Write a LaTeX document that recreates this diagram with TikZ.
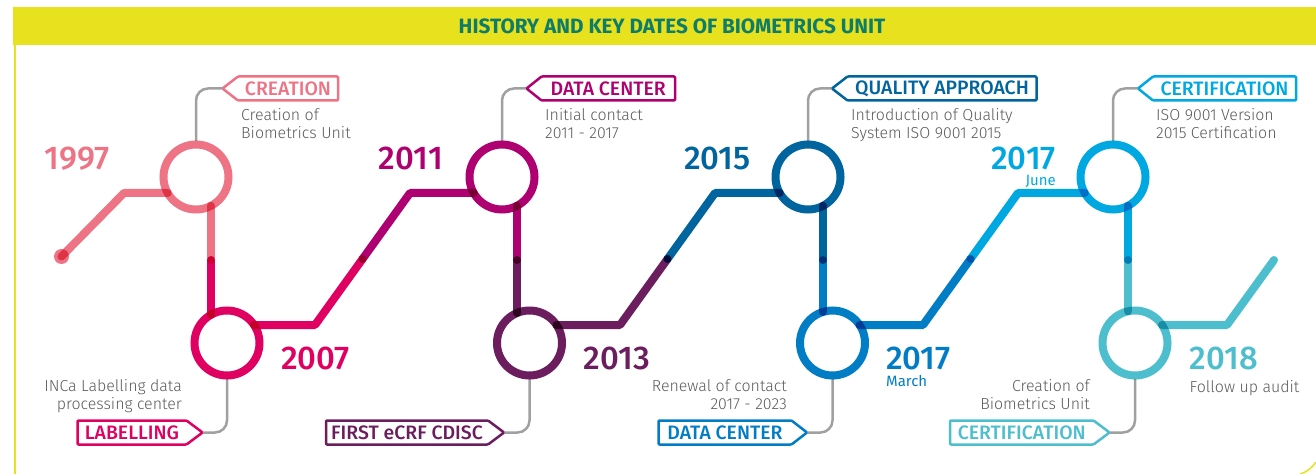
\documentclass[tikz,border=0pt]{standalone}
\usepackage{fontspec}
\setmainfont{Fira Sans}
\newfontfamily\lightf{Fira Sans Light}
\newfontfamily\medf{Fira Sans Medium}
\usetikzlibrary{calc}

% one colour per year of the timeline
\definecolor{cA}{HTML}{EE7485}
\definecolor{cB}{HTML}{E00061}
\definecolor{cC}{HTML}{AE0070}
\definecolor{cD}{HTML}{6C1D5E}
\definecolor{cE}{HTML}{00649F}
\definecolor{cF}{HTML}{007DC5}
\definecolor{cG}{HTML}{00A8E1}
\definecolor{cH}{HTML}{4DBECE}
\definecolor{band}{HTML}{E8E21E}
\definecolor{headtxt}{HTML}{0E7C6B}
\definecolor{conngray}{HTML}{A0A0A0}
\definecolor{desc}{HTML}{5A5A5A}

\tikzset{
  track/.style={line width=8bp, line cap=round, line join=round, blend mode=multiply},
  ring/.style={circle, minimum size=65bp, inner sep=0pt, line width=8bp, blend mode=multiply, draw=#1},
  conn/.style={draw=conngray, line width=2.5bp, rounded corners=12bp},
  tagbody/.style={minimum height=24bp, inner sep=0pt, outer sep=0pt, text=#1,
    font=\medf\fontsize{19.5}{19.5}\selectfont},
  tagline/.style={draw=#1, line width=2.5bp, line join=round, rounded corners=1bp},
  yearA/.style={text=#1, inner sep=0pt, font=\medf\fontsize{33}{33}\selectfont},
  month/.style={text=#1, inner sep=0pt, font=\fontsize{15}{15}\selectfont},
  note/.style={text=desc, inner sep=0pt, font=\lightf\fontsize{16}{16}\selectfont},
}

\begin{document}
\begin{tikzpicture}[x=1bp, y=-1bp]
\useasboundingbox (0,0) rectangle (1316,474);

% header band and frame
\fill[band] (13,7) rectangle (1316,45);
\node[text=headtxt, font=\bfseries\fontsize{20.8}{20.8}\selectfont, inner sep=0pt] (title) at (672,26.5)
  {HISTORY AND KEY DATES OF BIOMETRICS UNIT};
\draw[band, line width=1.5bp] (15,45) -- (15,474);
\draw[band, line width=1.5bp] (1300,474) .. controls (1306,472.5) and (1312,468) .. (1316,462);

% milestone circles
\coordinate (p1) at (196,177);
\coordinate (p2) at (227,343);
\coordinate (p3) at (502,177);
\coordinate (p4) at (529.5,343);
\coordinate (p5) at (808,177);
\coordinate (p6) at (832.5,343);
\coordinate (p7) at (1113,177);
\coordinate (p8) at (1135,343);

% tag tips
\coordinate (tp1) at (222.5,88.5);
\coordinate (tp3) at (526.5,88.5);
\coordinate (tp5) at (832,88.5);
\coordinate (tp7) at (1138,88.5);
\coordinate (tp2) at (202.5,432.5);
\coordinate (tp4) at (504,432.5);
\coordinate (tp6) at (807,432.5);
\coordinate (tp8) at (1109.5,432.5);

% grey leaders from circles to tags
\draw[conn] ($(p1)+(0,-36)$) |- (tp1);
\draw[conn] ($(p3)+(0,-36)$) |- (tp3);
\draw[conn] ($(p5)+(0,-36)$) |- (tp5);
\draw[conn] ($(p7)+(0,-36)$) |- (tp7);
\draw[conn] ($(p2)+(0,36)$) |- (tp2);
\draw[conn] ($(p4)+(0,36)$) |- (tp4);
\draw[conn] ($(p6)+(0,36)$) |- (tp6);
\draw[conn] ($(p8)+(0,36)$) |- (tp8);

% track bends
\coordinate (s0) at (61.5,256.5);
\coordinate (k1) at (124,193);
\coordinate (v1) at (211,260);
\coordinate (k2) at (315,325);
\coordinate (m2) at (362.5,259);
\coordinate (k3) at (410,193);
\coordinate (v3) at (517,260);
\coordinate (k4) at (620,325);
\coordinate (m4) at (667.5,259);
\coordinate (k5) at (715,193);
\coordinate (v5) at (823,260);
\coordinate (k6) at (923,325);
\coordinate (m6) at (970.5,259);
\coordinate (k7) at (1018,193);
\coordinate (v7) at (1128,260);
\coordinate (k8) at (1227,325);
\coordinate (e8) at (1274,260);

% the circles
\node[ring=cA] (c1) at (p1) {};
\node[ring=cB] (c2) at (p2) {};
\node[ring=cC] (c3) at (p3) {};
\node[ring=cD] (c4) at (p4) {};
\node[ring=cE] (c5) at (p5) {};
\node[ring=cF] (c6) at (p6) {};
\node[ring=cG] (c7) at (p7) {};
\node[ring=cH] (c8) at (p8) {};

% track, one stretch per colour
\fill[cA, blend mode=multiply] (s0) circle (7.5);
\draw[track, cA] (s0) -- (k1) -- ($(c1)+(-28.3,16)$);
\draw[track, cA] ($(c1)+(15,28.8)$) -- (v1);
\draw[track, cB] (v1) -- ($(c2)+(-16,-28.3)$);
\draw[track, cB] ($(c2)+(27,-18)$) -- (k2) -- (m2);
\draw[track, cC] (m2) -- (k3) -- ($(c3)+(-28.3,16)$);
\draw[track, cC] ($(c3)+(15,28.8)$) -- (v3);
\draw[track, cD] (v3) -- ($(c4)+(-12.5,-30)$);
\draw[track, cD] ($(c4)+(27,-18)$) -- (k4) -- (m4);
\draw[track, cE] (m4) -- (k5) -- ($(c5)+(-28.3,16)$);
\draw[track, cE] ($(c5)+(15,28.8)$) -- (v5);
\draw[track, cF] (v5) -- ($(c6)+(-9.5,-31.1)$);
\draw[track, cF] ($(c6)+(27,-18)$) -- (k6) -- (m6);
\draw[track, cG] (m6) -- (k7) -- ($(c7)+(-28.3,16)$);
\draw[track, cG] ($(c7)+(15,28.8)$) -- (v7);
\draw[track, cH] (v7) -- ($(c8)+(-7,-31.7)$);
\draw[track, cH] ($(c8)+(27,-18)$) -- (k8) -- (e8);

% top tags
\node[tagbody=cA, minimum width=100bp, anchor=west] (g1) at (238,88.5) {CREATION};
\node[tagbody=cC, minimum width=133.5bp, anchor=west] (g3) at (541.5,88.5) {DATA CENTER};
\node[tagbody=cE, minimum width=189bp, anchor=west] (g5) at (847.5,88.5) {QUALITY APPROACH};
\node[tagbody=cG, minimum width=143bp, anchor=west] (g7) at (1153,88.5) {CERTIFICATION};
\foreach \g/\t/\c in {g1/tp1/cA, g3/tp3/cC, g5/tp5/cE, g7/tp7/cG}
  \draw[tagline=\c] (\g.north east) -- (\g.north west) -- (\t) -- (\g.south west) -- (\g.south east) -- cycle;

% bottom tags
\node[tagbody=cB, minimum width=109bp, anchor=east] (g2) at (186.5,432.5) {LABELLING};
\node[tagbody=cD, minimum width=162bp, anchor=east] (g4) at (488,432.5) {FIRST eCRF CDISC};
\node[tagbody=cF, minimum width=133bp, anchor=east] (g6) at (791.5,432.5) {DATA CENTER};
\node[tagbody=cH, minimum width=143.5bp, anchor=east] (g8) at (1093.5,432.5) {CERTIFICATION};
\foreach \g/\t/\c in {g2/tp2/cB, g4/tp4/cD, g6/tp6/cF, g8/tp8/cH}
  \draw[tagline=\c] (\g.north west) -- (\g.north east) -- (\t) -- (\g.south east) -- (\g.south west) -- cycle;

% years
\node[yearA=cA, anchor=base east] (y1) at (110,169.5) {1997};
\node[yearA=cC, anchor=base east] (y3) at (443,169.5) {2011};
\node[yearA=cE, anchor=base east] (y5) at (751,169.5) {2015};
\node[yearA=cG, anchor=base east] (y7) at (1056,169.5) {2017};
\node[month=cG, anchor=base east] (m7) at (1056,186) {June};
\node[yearA=cB, anchor=base west] (y2) at (281,369.5) {2007};
\node[yearA=cD, anchor=base west] (y4) at (583.5,369.5) {2013};
\node[yearA=cF, anchor=base west] (y6) at (886,369.5) {2017};
\node[month=cF, anchor=base west] (m6) at (886,386) {March};
\node[yearA=cH, anchor=base west] (y8) at (1189.5,369.5) {2018};
\node[note, anchor=base west] (n8) at (1189.5,392.5) {Follow up audit};

% descriptions under the top tags
\node[note, anchor=base west] (n1a) at (241,121) {Creation of};
\node[note, anchor=base west] (n1b) at (241,139) {Biometrics Unit};
\node[note, anchor=base west] (n3a) at (545,121) {Initial contact};
\node[note, anchor=base west] (n3b) at (545,139) {2011 - 2017};
\node[note, anchor=base west] (n5a) at (851,121) {Introduction of Quality};
\node[note, anchor=base west] (n5b) at (851,139) {System ISO 9001 2015};
\node[note, anchor=base west] (n7a) at (1156,121) {ISO 9001 Version};
\node[note, anchor=base west] (n7b) at (1156,139) {2015 Certification};

% descriptions above the bottom tags
\node[note, anchor=base east] (n2a) at (182,391.5) {INCa Labelling data};
\node[note, anchor=base east] (n2b) at (182,409.5) {processing center};
\node[note, anchor=base east] (n6a) at (787,391.5) {Renewal of contact};
\node[note, anchor=base east] (n6b) at (787,409.5) {2017 - 2023};
\node[note, anchor=base east] (n8a) at (1090,391.5) {Creation of};
\node[note, anchor=base east] (n8b) at (1090,409.5) {Biometrics Unit};
\end{tikzpicture}
\end{document}
